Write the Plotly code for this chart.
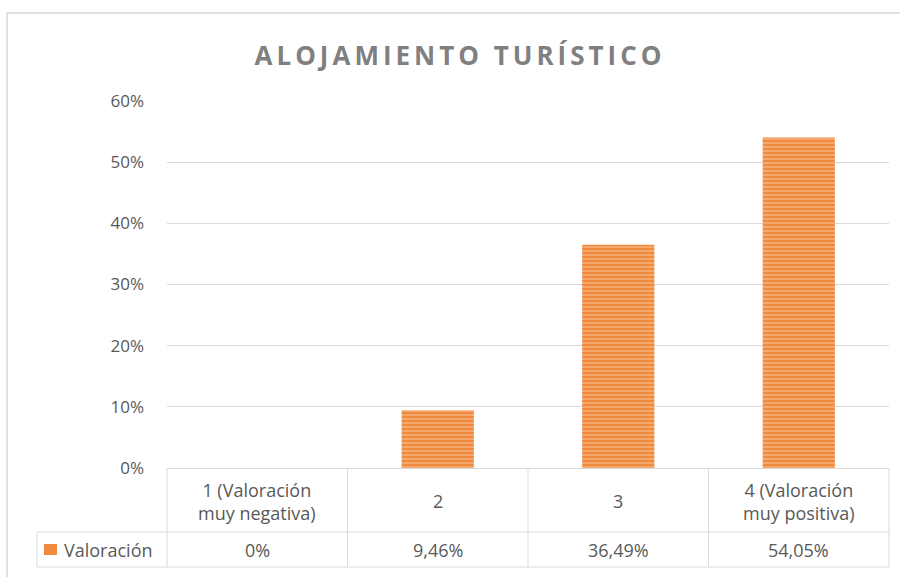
import plotly.graph_objects as go

# Data
categorias = ["1 (Valoración<br>muy negativa)", "2", "3", "4 (Valoración<br>muy positiva)"]
valores = [0.0, 0.0946, 0.3649, 0.5405]
etiquetas_valor = ["0%", "9,46%", "36,49%", "54,05%"]
serie = "Valoración"
titulo = "ALOJAMIENTO TURÍSTICO"
ticks_y = [0, 0.1, 0.2, 0.3, 0.4, 0.5, 0.6]

W, H = 900, 577
FONT = "Open Sans"
GRID = "#d9d9d9"
TXT = "#595959"
ORANGE = "#f08a3e"


def px(x):
    return x / W


def py(y):
    return 1 - y / H


x_idx = list(range(len(categorias)))

fig = go.Figure()
fig.add_trace(
    go.Bar(
        x=x_idx,
        y=valores,
        name=serie,
        width=0.4,
        marker=dict(
            color=ORANGE,
            line=dict(width=0),
            pattern=dict(shape="-", fgcolor="#fbd2b3", bgcolor=ORANGE, size=4, solidity=0.4),
        ),
        showlegend=False,
    )
)

# --- data table under the plot ---
left, right = 167, 889
col_w = (right - left) / len(categorias)
y_axis, y_mid, y_bot = 468, 532, 567
tbl_left = 37
line = dict(color=GRID, width=1)
shapes = [
    dict(type="line", x0=px(tbl_left), x1=px(right), y0=py(y_mid), y1=py(y_mid), line=line),
    dict(type="line", x0=px(tbl_left), x1=px(right), y0=py(y_bot), y1=py(y_bot), line=line),
    dict(type="line", x0=px(tbl_left), x1=px(tbl_left), y0=py(y_mid), y1=py(y_bot), line=line),
]
for i in range(len(categorias) + 1):
    xx = left + i * col_w
    shapes.append(dict(type="line", x0=px(xx), x1=px(xx), y0=py(y_axis), y1=py(y_bot), line=line))
# chart area border (top + left, the rest falls outside the picture)
shapes.append(dict(type="line", x0=px(7), x1=1, y0=py(13), y1=py(13), line=dict(color="#d9d9d9", width=1.5)))
shapes.append(dict(type="line", x0=px(7), x1=px(7), y0=0, y1=py(13), line=dict(color="#d9d9d9", width=1.5)))
# legend key
shapes.append(dict(type="rect", x0=px(44), x1=px(57), y0=py(555), y1=py(544),
                   fillcolor=ORANGE, line=dict(width=0)))
for s in shapes:
    s.update(xref="paper", yref="paper")

cell_font = dict(family=FONT, size=18, color=TXT)
annotations = []
for i, (c, v) in enumerate(zip(categorias, etiquetas_valor)):
    annotations.append(dict(x=i, xref="x", y=py((y_axis + y_mid) / 2 + 1), yref="paper", text=c, showarrow=False,
                            font=cell_font, xanchor="center", yanchor="middle"))
    annotations.append(dict(x=i, xref="x", y=py((y_mid + y_bot) / 2), yref="paper", text=v, showarrow=False,
                            font=cell_font, xanchor="center", yanchor="middle"))
annotations.append(dict(x=px(62), xref="paper", y=py((y_mid + y_bot) / 2), yref="paper", text=serie,
                        showarrow=False, font=cell_font, xanchor="left", yanchor="middle"))

fig.update_layout(
    width=W,
    height=H,
    margin=dict(l=0, r=0, t=0, b=0),
    paper_bgcolor="white",
    plot_bgcolor="white",
    title=dict(text=f"<b>{titulo}</b>", x=460 / W, xanchor="center", y=py(56), yanchor="middle",
               font=dict(family=FONT, size=26, color="#808080")),
    xaxis=dict(domain=[px(left), px(right)], range=[-0.5, len(categorias) - 0.5], showticklabels=False,
               showgrid=False, zeroline=False, showline=False, automargin=False),
    yaxis=dict(domain=[py(y_axis), py(101)], range=[0, 0.6], tickvals=ticks_y, tickformat=".0%",
               gridcolor=GRID, gridwidth=1, zeroline=True, zerolinecolor=GRID, zerolinewidth=1,
               showline=False, automargin=False, ticklabelstandoff=22,
               tickfont=dict(family=FONT, size=17, color=TXT)),
    shapes=shapes,
    annotations=annotations,
)

# page without body margin / scrollbars, and the spaced-out title lettering
post = """
document.body.style.margin = '0';
document.body.style.overflow = 'hidden';
var gd = document.getElementById('{plot_id}');
function spaceTitle() {
  var t = gd.querySelector('.gtitle');
  if (t) { t.style.letterSpacing = '4px'; }
}
spaceTitle();
gd.on('plotly_afterplot', spaceTitle);
"""

fig.write_html("out.html", post_script=post, config={"displayModeBar": False})
